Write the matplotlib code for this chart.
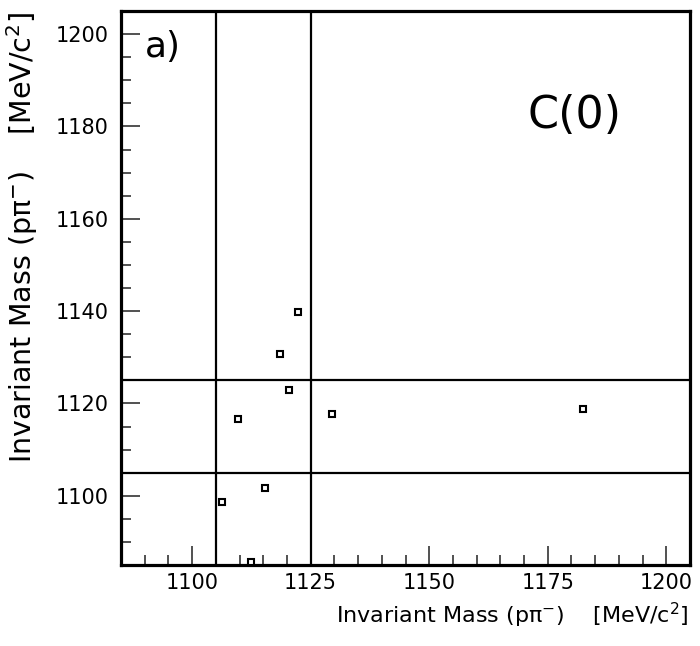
import numpy as np
import matplotlib
matplotlib.use('Agg')
import matplotlib.pyplot as plt
from matplotlib.ticker import MultipleLocator

# candidate events: invariant masses of the two p pi- pairs (MeV/c^2)
mass_x = [1122.4, 1118.5, 1120.5, 1109.6, 1129.4, 1115.4, 1106.4, 1112.5, 1182.5]
mass_y = [1139.7, 1130.7, 1122.8, 1116.7, 1117.8, 1101.7, 1098.6, 1085.6, 1118.8]

# mass window cuts
cut_lo = 1105
cut_hi = 1125

x_range = [1085, 1205]
y_range = [1085, 1205]

plt.rcParams['font.family'] = 'DejaVu Sans'

fig = plt.figure(figsize=(7.0, 6.46), dpi=100)
ax = fig.add_axes([121/700, 1-565/646, (690-121)/700, (565-11)/646])

ax.plot(mass_x, mass_y, 's', ms=5, mfc='white', mec='black', mew=1.5,
        zorder=3)

ax.axvline(cut_lo, color='black', lw=1.6)
ax.axvline(cut_hi, color='black', lw=1.6)
ax.axhline(cut_lo, color='black', lw=1.6)
ax.axhline(cut_hi, color='black', lw=1.6)

ax.set_xlim(x_range)
ax.set_ylim(y_range)

ax.xaxis.set_major_locator(MultipleLocator(25))
ax.xaxis.set_minor_locator(MultipleLocator(5))
ax.yaxis.set_major_locator(MultipleLocator(20))
ax.yaxis.set_minor_locator(MultipleLocator(5))
ax.tick_params(which='both', direction='in', top=False, right=False,
               color='#333333', width=1.2)
ax.tick_params(which='major', length=13.5)
ax.tick_params(which='minor', length=7)
ax.tick_params(axis='x', which='major', labelsize=15, pad=6)
ax.tick_params(axis='y', which='major', labelsize=15, pad=9)

for side in ['left', 'bottom', 'top', 'right']:
    ax.spines[side].set_linewidth(2.3)

ax.text(1093.8, 1197.2, 'a)', fontsize=26, ha='center', va='center')
ax.text(1180.6, 1182.4, 'C(0)', fontsize=32, ha='center', va='center')

fig.text(688/700, 1-615/646, 'Invariant Mass (pπ$^{-}$)    [MeV/c$^{2}$]',
         fontsize=16, ha='right', va='center')
fig.text(22/700, 1-12/646, 'Invariant Mass (pπ$^{-}$)    [MeV/c$^{2}$]',
         fontsize=20.5, rotation=90, ha='center', va='top')

fig.savefig('out.png', dpi=100)
